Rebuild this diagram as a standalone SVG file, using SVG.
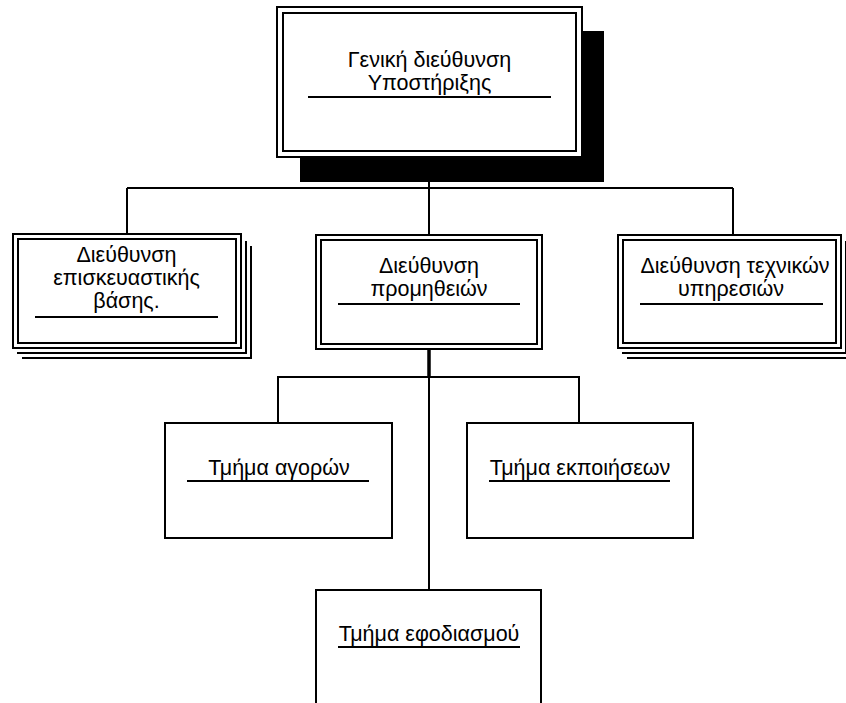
<svg xmlns="http://www.w3.org/2000/svg" width="846" height="703" viewBox="0 0 846 703">
  <style>
    .frame { fill: #fff; stroke: #000; stroke-width: 2; }
    .inner { fill: none; stroke: #000; stroke-width: 2; }
    .sheet { fill: none; stroke: #000; stroke-width: 2; }
    .rule { stroke: #000; stroke-width: 2; }
    .wire { fill: none; stroke: #000; stroke-width: 2; }
    .label { font-family: "Liberation Sans", Arial, sans-serif; font-size: 21.5px; fill: #000; text-anchor: middle; }
  </style>

  <!-- connectors -->
  <g id="connectors">
    <path class="wire" d="M429 157 V188 M127 188 H733 M127 188 V234 M429 188 V235 M733 188 V235"/>
    <path class="wire" d="M429 349 V590 M278 423 V377 H579 V423"/>
    <path d="M429 349 V377" stroke="#000" stroke-width="3.5"/>
  </g>

  <!-- top node with drop shadow -->
  <g id="general-directorate">
    <rect x="300" y="31" width="304" height="151" fill="#000"/>
    <rect class="frame" x="277" y="7" width="305" height="150"/>
    <rect class="inner" x="283" y="13" width="293" height="138"/>
    <text class="label" x="429.5" y="67">Γενική διεύθυνση</text>
    <text class="label" x="429.5" y="90">Υποστήριξης</text>
    <line class="rule" x1="308" y1="97" x2="551" y2="97"/>
  </g>

  <!-- left directorate (stacked) -->
  <g id="repair-base">
    <path class="sheet" d="M246 241 V353 H17"/>
    <path class="sheet" d="M251 246 V358 H22"/>
    <rect class="frame" x="13" y="234" width="228" height="114"/>
    <rect class="inner" x="18" y="239" width="218" height="104"/>
    <text class="label" x="126.5" y="262">Διεύθυνση</text>
    <text class="label" x="126.5" y="285">επισκευαστικής</text>
    <text class="label" x="126.5" y="308">βάσης.</text>
    <line class="rule" x1="35" y1="317" x2="218" y2="317"/>
  </g>

  <!-- middle directorate -->
  <g id="procurement">
    <rect class="frame" x="316" y="235" width="226" height="114"/>
    <rect class="inner" x="321" y="240" width="216" height="104"/>
    <text class="label" x="429" y="273">Διεύθυνση</text>
    <text class="label" x="429" y="296">προμηθειών</text>
    <line class="rule" x1="338" y1="304" x2="520" y2="304"/>
  </g>

  <!-- right directorate (stacked) -->
  <g id="technical-services">
    <path class="sheet" d="M846 241 V353 H622"/>
    <path class="sheet" d="M851 246 V358 H627"/>
    <rect class="frame" x="618" y="235" width="223" height="113"/>
    <rect class="inner" x="623" y="240" width="213" height="103"/>
    <text class="label" x="735" y="273">Διεύθυνση τεχνικών</text>
    <text class="label" x="731" y="296">υπηρεσιών</text>
    <line class="rule" x1="640" y1="304" x2="823" y2="304"/>
  </g>

  <!-- departments -->
  <g id="purchasing">
    <rect class="frame" x="165" y="423" width="227" height="115"/>
    <text class="label" x="279" y="475">Τμήμα αγορών</text>
    <line class="rule" x1="187" y1="481" x2="369" y2="481"/>
  </g>

  <g id="disposals">
    <rect class="frame" x="467" y="423" width="226" height="115"/>
    <text class="label" x="580" y="475">Τμήμα εκποιήσεων</text>
    <line class="rule" x1="489" y1="481" x2="670" y2="481"/>
  </g>

  <g id="supply">
    <rect class="frame" x="316" y="590" width="225" height="125"/>
    <text class="label" x="429" y="641">Τμήμα εφοδιασμού</text>
    <line class="rule" x1="338" y1="647" x2="520" y2="647"/>
  </g>
</svg>
